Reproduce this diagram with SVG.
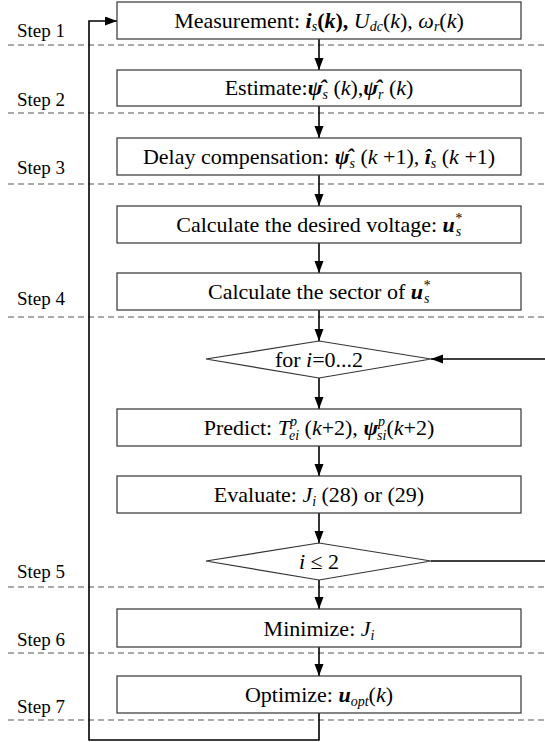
<svg xmlns="http://www.w3.org/2000/svg" width="545" height="742" viewBox="0 0 545 742">
<defs>
<marker id="ah" markerUnits="userSpaceOnUse" markerWidth="13" markerHeight="10" refX="12" refY="4.5" orient="auto">
<path d="M0,0 L12,4.5 L0,9 z" fill="#000"/>
</marker>
</defs>
<rect width="545" height="742" fill="#fff"/>
<g id="dashes" stroke="#555" stroke-width="1" stroke-dasharray="6,4" fill="none">
<line x1="8" y1="45" x2="545" y2="45"/>
<line x1="8" y1="113" x2="545" y2="113"/>
<line x1="8" y1="184" x2="545" y2="184"/>
<line x1="8" y1="317" x2="545" y2="317"/>
<line x1="8" y1="587" x2="545" y2="587"/>
<line x1="8" y1="653" x2="545" y2="653"/>
<line x1="8" y1="720" x2="545" y2="720"/>
</g>
<g id="steps" fill="#000">
<text font-family="Liberation Serif" font-size="19" x="17" y="37">Step 1</text>
<text font-family="Liberation Serif" font-size="19" x="17" y="106">Step 2</text>
<text font-family="Liberation Serif" font-size="19" x="17" y="174">Step 3</text>
<text font-family="Liberation Serif" font-size="19" x="17" y="305">Step 4</text>
<text font-family="Liberation Serif" font-size="19" x="17" y="578">Step 5</text>
<text font-family="Liberation Serif" font-size="19" x="17" y="646">Step 6</text>
<text font-family="Liberation Serif" font-size="19" x="17" y="713">Step 7</text>
</g>
<g id="connectors" stroke="#000" stroke-width="1.6" fill="none">
<line x1="319" y1="39" x2="319" y2="70" marker-end="url(#ah)"/>
<line x1="319" y1="106" x2="319" y2="138" marker-end="url(#ah)"/>
<line x1="319" y1="175" x2="319" y2="206" marker-end="url(#ah)"/>
<line x1="319" y1="243" x2="319" y2="273" marker-end="url(#ah)"/>
<line x1="319" y1="310" x2="319" y2="341" marker-end="url(#ah)"/>
<line x1="319" y1="378" x2="319" y2="409" marker-end="url(#ah)"/>
<line x1="319" y1="446" x2="319" y2="476" marker-end="url(#ah)"/>
<line x1="319" y1="513" x2="319" y2="543" marker-end="url(#ah)"/>
<line x1="319" y1="580" x2="319" y2="609" marker-end="url(#ah)"/>
<line x1="319" y1="647" x2="319" y2="676" marker-end="url(#ah)"/>
<path d="M319,713 V740 H89 V21 H117" marker-end="url(#ah)"/>
<line x1="545" y1="359" x2="431" y2="359" marker-end="url(#ah)"/>
<line x1="431" y1="561" x2="545" y2="561"/>
</g>
<g id="n1">
<rect x="117" y="2" width="404" height="37" fill="#fff" stroke="#333" stroke-width="1.2"/>
<text font-family="Liberation Serif" font-size="22" text-anchor="middle" x="319" y="28">Measurement: <tspan font-style="italic" font-weight="bold">i</tspan><tspan font-size="14" font-style="italic" dy="3">s</tspan><tspan dy="-3" font-weight="bold">(<tspan font-style="italic">k</tspan>),</tspan> <tspan font-style="italic">U</tspan><tspan font-size="14" font-style="italic" dy="3">dc</tspan><tspan dy="-3">(<tspan font-style="italic">k</tspan>),</tspan> <tspan font-style="italic">ω</tspan><tspan font-size="14" font-style="italic" dy="3">r</tspan><tspan dy="-3">(<tspan font-style="italic">k</tspan>)</tspan></text>
</g>
<g id="n2">
<rect x="117" y="70" width="404" height="36" fill="#fff" stroke="#333" stroke-width="1.2"/>
<text font-family="Liberation Serif" font-size="22" text-anchor="middle" x="319" y="95">Estimate:<tspan font-style="italic" font-weight="bold">ψ̂</tspan><tspan font-size="14" font-style="italic" dy="4">s</tspan><tspan dy="-4"> (<tspan font-style="italic">k</tspan>),</tspan><tspan font-style="italic" font-weight="bold">ψ̂</tspan><tspan font-size="14" font-style="italic" dy="4">r</tspan><tspan dy="-4"> (<tspan font-style="italic">k</tspan>)</tspan></text>
</g>
<g id="n3">
<rect x="117" y="138" width="404" height="37" fill="#fff" stroke="#333" stroke-width="1.2"/>
<text font-family="Liberation Serif" font-size="22" text-anchor="middle" x="319" y="164">Delay compensation: <tspan font-style="italic" font-weight="bold">ψ̂</tspan><tspan font-size="14" font-style="italic" dy="4">s</tspan><tspan dy="-4"> (<tspan font-style="italic">k</tspan> +1), </tspan><tspan font-style="italic" font-weight="bold">î</tspan><tspan font-size="14" font-style="italic" dy="4">s</tspan><tspan dy="-4"> (<tspan font-style="italic">k</tspan> +1)</tspan></text>
</g>
<g id="n4">
<rect x="117" y="206" width="404" height="37" fill="#fff" stroke="#333" stroke-width="1.2"/>
<text font-family="Liberation Serif" font-size="22" text-anchor="middle" x="319" y="232">Calculate the desired voltage: <tspan font-style="italic" font-weight="bold">u</tspan><tspan font-size="14" font-style="italic" dy="-9">*</tspan><tspan font-size="14" font-style="italic" dx="-6" dy="13">s</tspan></text>
</g>
<g id="n5">
<rect x="117" y="273" width="404" height="37" fill="#fff" stroke="#333" stroke-width="1.2"/>
<text font-family="Liberation Serif" font-size="22" text-anchor="middle" x="319" y="299">Calculate the sector of <tspan font-style="italic" font-weight="bold">u</tspan><tspan font-size="14" font-style="italic" dy="-9">*</tspan><tspan font-size="14" font-style="italic" dx="-6" dy="13">s</tspan></text>
</g>
<g id="n6">
<polygon points="206,359 319,341 431,359 319,378" fill="#fff" stroke="#333" stroke-width="1.2"/>
<text font-family="Liberation Serif" font-size="22" text-anchor="middle" x="319" y="367">for <tspan font-style="italic">i</tspan>=0...2</text>
</g>
<g id="n7">
<rect x="117" y="409" width="404" height="37" fill="#fff" stroke="#333" stroke-width="1.2"/>
<text font-family="Liberation Serif" font-size="22" text-anchor="middle" x="319" y="435">Predict: <tspan font-style="italic">T</tspan><tspan font-size="14" font-style="italic" dy="-9">p</tspan><tspan font-size="14" font-style="italic" dx="-8" dy="14">ei</tspan><tspan dy="-5"> (<tspan font-style="italic">k</tspan>+2), </tspan><tspan font-style="italic" font-weight="bold">ψ</tspan><tspan font-size="14" font-style="italic" dy="-9">p</tspan><tspan font-size="14" font-style="italic" dx="-8" dy="14">si</tspan><tspan dy="-5">(<tspan font-style="italic">k</tspan>+2)</tspan></text>
</g>
<g id="n8">
<rect x="117" y="476" width="404" height="37" fill="#fff" stroke="#333" stroke-width="1.2"/>
<text font-family="Liberation Serif" font-size="22" text-anchor="middle" x="319" y="502">Evaluate: <tspan font-style="italic">J</tspan><tspan font-size="14" font-style="italic" dy="4">i</tspan><tspan dy="-4">  (28) or (29)</tspan></text>
</g>
<g id="n9">
<polygon points="206,561 319,543 431,561 319,580" fill="#fff" stroke="#333" stroke-width="1.2"/>
<text font-family="Liberation Serif" font-size="22" text-anchor="middle" x="319" y="569"><tspan font-style="italic">i</tspan> ≤ 2</text>
</g>
<g id="n10">
<rect x="117" y="609" width="404" height="38" fill="#fff" stroke="#333" stroke-width="1.2"/>
<text font-family="Liberation Serif" font-size="22" text-anchor="middle" x="319" y="636">Minimize: <tspan font-style="italic">J</tspan><tspan font-size="14" font-style="italic" dy="4">i</tspan></text>
</g>
<g id="n11">
<rect x="117" y="676" width="404" height="37" fill="#fff" stroke="#333" stroke-width="1.2"/>
<text font-family="Liberation Serif" font-size="22" text-anchor="middle" x="319" y="702">Optimize: <tspan font-style="italic" font-weight="bold">u</tspan><tspan font-size="14" font-style="italic" dy="4">opt</tspan><tspan dy="-4">(<tspan font-style="italic">k</tspan>)</tspan></text>
</g>
</svg>
